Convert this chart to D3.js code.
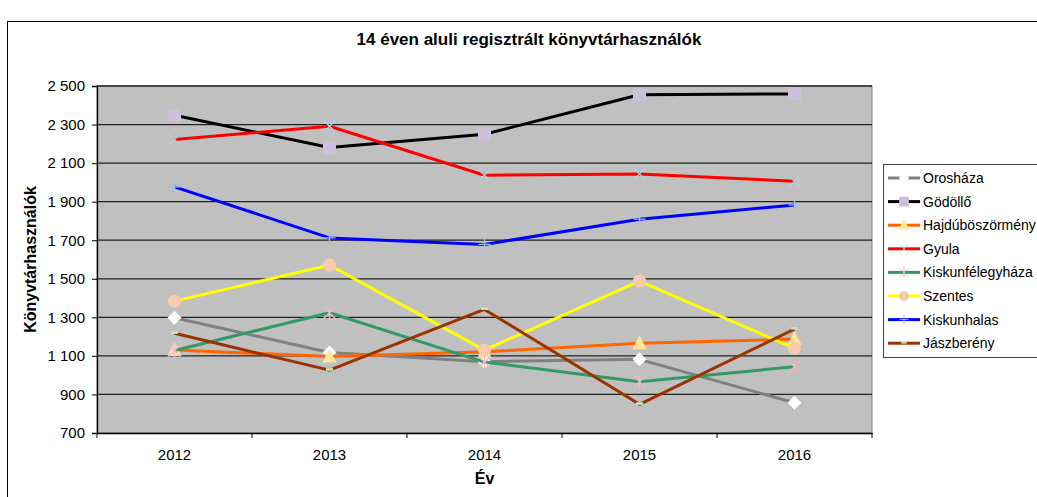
<!DOCTYPE html>
<html>
<head>
<meta charset="utf-8">
<script src="https://cdn.jsdelivr.net/npm/d3@7"></script>
<style>
  body { margin: 0; background: #fff; }
  text { font-family: "Liberation Sans", Arial, sans-serif; fill: #000; }
</style>
</head>
<body>
<svg width="1037" height="497"></svg>
<script>
// data
var years = ["2012", "2013", "2014", "2015", "2016"];
var cities = ["Orosháza", "Gödöllő", "Hajdúböszörmény", "Gyula", "Kiskunfélegyháza", "Szentes", "Kiskunhalas", "Jászberény"];
var oroshaza = [1298, 1118, 1070, 1082, 857];
var godollo = [2348, 2181, 2250, 2455, 2459];
var hajdu = [1130, 1097, 1121, 1166, 1187];
var gyula = [2222, 2291, 2037, 2044, 2006];
var felegyhaza = [1128, 1324, 1068, 966, 1044];
var szentes = [1384, 1571, 1130, 1488, 1139];
var halas = [1977, 1712, 1678, 1809, 1883];
var jaszbereny = [1217, 1026, 1341, 849, 1239];
var yTicks = [700, 900, 1100, 1300, 1500, 1700, 1900, 2100, 2300, 2500];

var values = [oroshaza, godollo, hajdu, gyula, felegyhaza, szentes, halas, jaszbereny];
var lineColors = ["#808080", "#000000", "#ff6600", "#ff0000", "#339966", "#ffff00", "#0000ff", "#993300"];
var markerTypes = ["diamond", "square", "triangle", "x", "star", "circle", "plus", "dash"];
var markerColors = ["#ffffff", "#ccc0da", "#ffe699", "#9fd9e8", "#f4b6bf", "#f8cbad", "#9cc3e6", "#c6e8c6"];

var series = cities.map(function (c, i) {
    return { name: c, values: values[i], color: lineColors[i], marker: markerTypes[i], mcolor: markerColors[i] };
});

var svg = d3.select("svg"),
    margin = { top: 86, right: 165, bottom: 64, left: 97 },
    width = 1037 - margin.left - margin.right,
    height = 497 - margin.top - margin.bottom;

var hu = d3.formatLocale({ decimal: ",", thousands: " ", grouping: [3], currency: ["", ""] });
var fmt = hu.format(",d");

// chart frame
svg.append("rect")
    .attr("x", 7.5).attr("y", 21.5)
    .attr("width", 1044).attr("height", 500)
    .attr("fill", "#fff").attr("stroke", "#000").attr("stroke-width", 1);

svg.append("text")
    .attr("x", 529)
    .attr("y", 45)
    .attr("text-anchor", "middle")
    .style("font-size", "17px")
    .style("font-weight", "bold")
    .text("14 éven aluli regisztrált könyvtárhasználók");

var g = svg.append("g")
    .attr("transform", "translate(" + margin.left + "," + margin.top + ")");

var x = d3.scaleBand().domain(years).range([0, width]);
var y = d3.scaleLinear().domain([700, 2500]).range([height, 0]);

// plot area
g.append("rect")
    .attr("width", width).attr("height", height)
    .attr("fill", "#c0c0c0")
    .attr("stroke", "#808080").attr("stroke-width", 1);

// gridlines
g.selectAll(".grid")
    .data(yTicks.slice(1))
    .enter().append("line")
    .attr("class", "grid")
    .attr("x1", 0).attr("x2", width)
    .attr("y1", function (d) { return y(d); })
    .attr("y2", function (d) { return y(d); })
    .attr("stroke", "#222").attr("stroke-width", 1.3);

// y-axis
var yAxis = g.append("g")
    .call(d3.axisLeft(y).tickValues(yTicks).tickFormat(fmt).tickSize(5).tickPadding(7));
yAxis.select(".domain").attr("stroke", "#000").attr("stroke-width", 1.3);
yAxis.selectAll(".tick line").attr("stroke", "#000");
yAxis.selectAll("text").style("font-size", "15px").attr("fill", "#000");

// x-axis, ticks at band edges
var xAxis = g.append("g")
    .attr("transform", "translate(0," + height + ")")
    .call(d3.axisBottom(x).tickSize(0).tickPadding(16));
xAxis.select(".domain").attr("stroke", "#000").attr("stroke-width", 1.3);
xAxis.selectAll("text").style("font-size", "15px").attr("fill", "#000");
xAxis.selectAll(".edge")
    .data(d3.range(years.length + 1))
    .enter().append("line")
    .attr("class", "edge")
    .attr("x1", function (i) { return i * x.step(); })
    .attr("x2", function (i) { return i * x.step(); })
    .attr("y1", 0).attr("y2", 5)
    .attr("stroke", "#000");

// axis titles
svg.append("text")
    .attr("text-anchor", "middle")
    .attr("transform", "translate(36," + (margin.top + height / 2) + ") rotate(-90)")
    .style("font-size", "16px")
    .style("font-weight", "bold")
    .text("Könyvtárhasználók");

svg.append("text")
    .attr("x", margin.left + width / 2)
    .attr("y", 484)
    .attr("text-anchor", "middle")
    .style("font-size", "16px")
    .style("font-weight", "bold")
    .text("Év");

function drawMarker(sel, type, color) {
    if (type === "diamond") {
        sel.append("path").attr("d", "M0,-7L7,0L0,7L-7,0Z").attr("fill", color);
    } else if (type === "square") {
        sel.append("rect").attr("x", -6.5).attr("y", -6.5).attr("width", 13).attr("height", 13).attr("fill", color);
    } else if (type === "triangle") {
        sel.append("path").attr("d", "M0,-8L7,6L-7,6Z").attr("fill", color);
    } else if (type === "circle") {
        sel.append("circle").attr("r", 6.5).attr("fill", color);
    } else if (type === "x") {
        sel.append("path").attr("d", "M-6,-6L6,6M-6,6L6,-6").attr("stroke", color).attr("stroke-width", 1.3).attr("fill", "none");
    } else if (type === "star") {
        sel.append("path").attr("d", "M-6,-6L6,6M-6,6L6,-6M0,-7L0,7").attr("stroke", color).attr("stroke-width", 1.3).attr("fill", "none");
    } else if (type === "plus") {
        sel.append("path").attr("d", "M-6,0L6,0M0,-6L0,6").attr("stroke", color).attr("stroke-width", 1.3).attr("fill", "none");
    } else if (type === "dash") {
        sel.append("rect").attr("x", -3.5).attr("y", -2).attr("width", 7).attr("height", 2.5).attr("fill", color);
    }
}

var line = d3.line()
    .x(function (d, i) { return x(years[i]) + x.bandwidth() / 2; })
    .y(function (d) { return y(d); });

series.forEach(function (s) {
    var sg = g.append("g").attr("class", "series");
    sg.append("path")
        .attr("d", line(s.values))
        .attr("fill", "none")
        .attr("stroke", s.color)
        .attr("stroke-width", 3)
        .attr("stroke-linejoin", "round");
    s.values.forEach(function (v, i) {
        var m = sg.append("g")
            .attr("transform", "translate(" + (x(years[i]) + x.bandwidth() / 2) + "," + y(v) + ")");
        drawMarker(m, s.marker, s.mcolor);
    });
});

// legend
var legend = svg.append("g").attr("transform", "translate(883,164)");
legend.append("rect")
    .attr("x", 0.5).attr("y", 0.5)
    .attr("width", 200).attr("height", 193)
    .attr("fill", "#fff").attr("stroke", "#444").attr("stroke-width", 1);
var items = legend.selectAll(".item")
    .data(series)
    .enter().append("g")
    .attr("class", "item")
    .attr("transform", function (d, i) { return "translate(0," + (14 + i * 23.6) + ")"; });
items.append("line")
    .attr("x1", 5).attr("x2", 37)
    .attr("stroke", function (d) { return d.color; })
    .attr("stroke-width", 3);
items.each(function (d) {
    var m = d3.select(this).append("g").attr("transform", "translate(21,0) scale(0.75)");
    drawMarker(m, d.marker, d.mcolor);
});
items.append("text")
    .attr("x", 40)
    .attr("y", 5)
    .style("font-size", "14px")
    .text(function (d) { return d.name; });
</script>
</body>
</html>
